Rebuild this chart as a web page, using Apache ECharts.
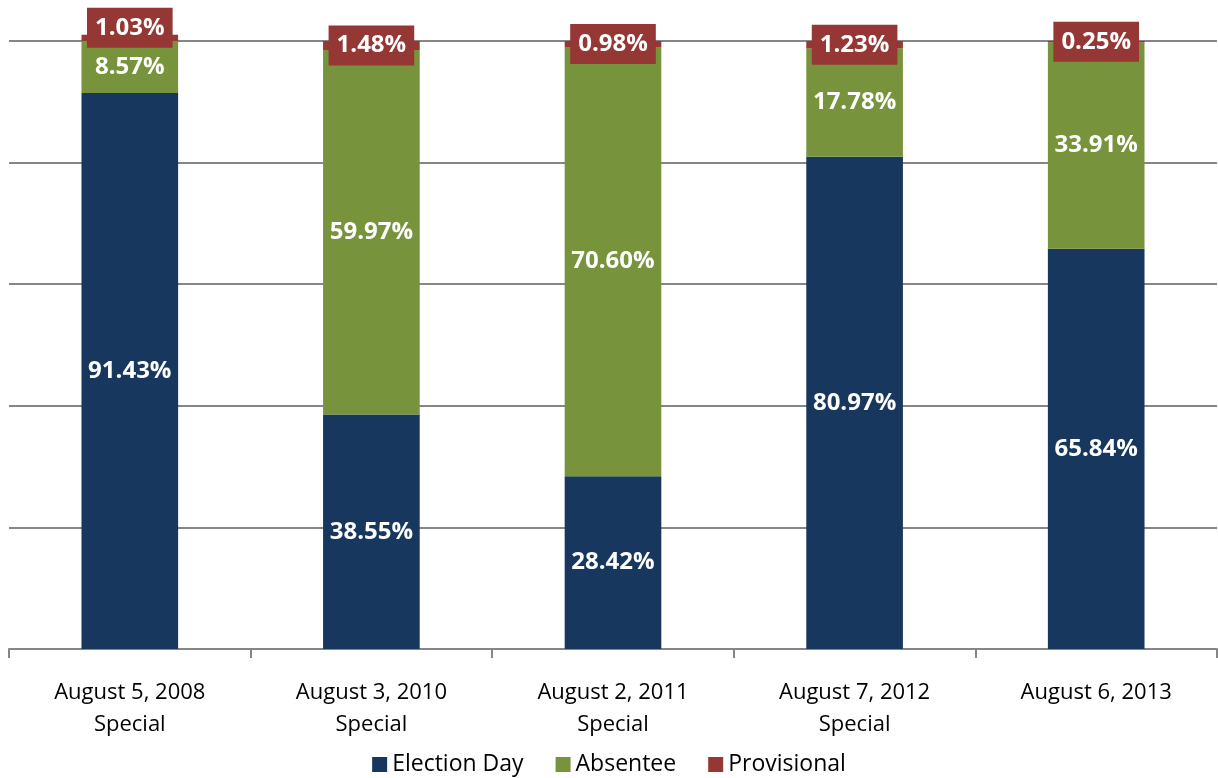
<!DOCTYPE html>
<html>
<head>
<meta charset="utf-8">
<script src="https://cdn.jsdelivr.net/npm/echarts@6/dist/echarts.min.js"></script>
<style>
html, body { margin: 0; padding: 0; background: #fff; }
#main { width: 1218px; height: 778px; }
</style>
</head>
<body>
<div id="main"></div>
<script>
var categories = ['August 5, 2008\nSpecial', 'August 3, 2010\nSpecial', 'August 2, 2011\nSpecial', 'August 7, 2012\nSpecial', 'August 6, 2013'];
var electionDay = [91.43, 38.55, 28.42, 80.97, 65.84];
var absentee = [8.57, 59.97, 70.60, 17.78, 33.91];
var provisional = [1.03, 1.48, 0.98, 1.23, 0.25];

var font = '"Open Sans", "Noto Sans", sans-serif';

function makeSeries(name, list, color, boxed) {
    var label = {
        show: true,
        color: '#fff',
        fontFamily: font,
        fontWeight: 'bold',
        fontSize: 24,
        formatter: function (p) { return p.value.toFixed(2) + '%'; }
    };
    var data = list.slice();
    if (boxed) {
        label.backgroundColor = color;
        label.padding = [9, 8, 7, 8];
        label.position = 'inside';
        // first box sits a bit higher in the original
        data = [];
        for (var i = 0; i < list.length; i++) {
            data.push(i == 0 ? { value: list[i], label: { offset: [0, -10] } } : list[i]);
        }
    }
    return {
        name: name,
        type: 'bar',
        stack: 'total',
        barWidth: '40%',
        clip: false,
        itemStyle: { color: color },
        label: label,
        data: data
    };
}

var chart = echarts.init(document.getElementById('main'));
chart.setOption({
    animation: false,
    grid: { left: 9, right: 1, top: 41, bottom: 129 },
    legend: {
        bottom: -3,
        itemWidth: 15,
        itemHeight: 15,
        itemGap: 32,
        icon: 'rect',
        textStyle: { fontFamily: font, fontSize: 23, color: '#000' },
        data: ['Election Day', 'Absentee', 'Provisional']
    },
    xAxis: {
        type: 'category',
        data: categories,
        axisLine: { lineStyle: { color: '#868686', width: 2 } },
        axisTick: { show: true, length: 9, lineStyle: { color: '#868686', width: 2 } },
        axisLabel: { fontFamily: font, fontSize: 22, color: '#000', margin: 28, lineHeight: 32 }
    },
    yAxis: {
        type: 'value',
        min: 0,
        max: 100,
        interval: 20,
        axisLabel: { show: false },
        axisLine: { show: false },
        axisTick: { show: false },
        splitLine: { lineStyle: { color: '#868686', width: 2 } }
    },
    series: [
        makeSeries('Election Day', electionDay, '#17375E', false),
        makeSeries('Absentee', absentee, '#77933C', false),
        makeSeries('Provisional', provisional, '#953735', true)
    ]
});
</script>
</body>
</html>
